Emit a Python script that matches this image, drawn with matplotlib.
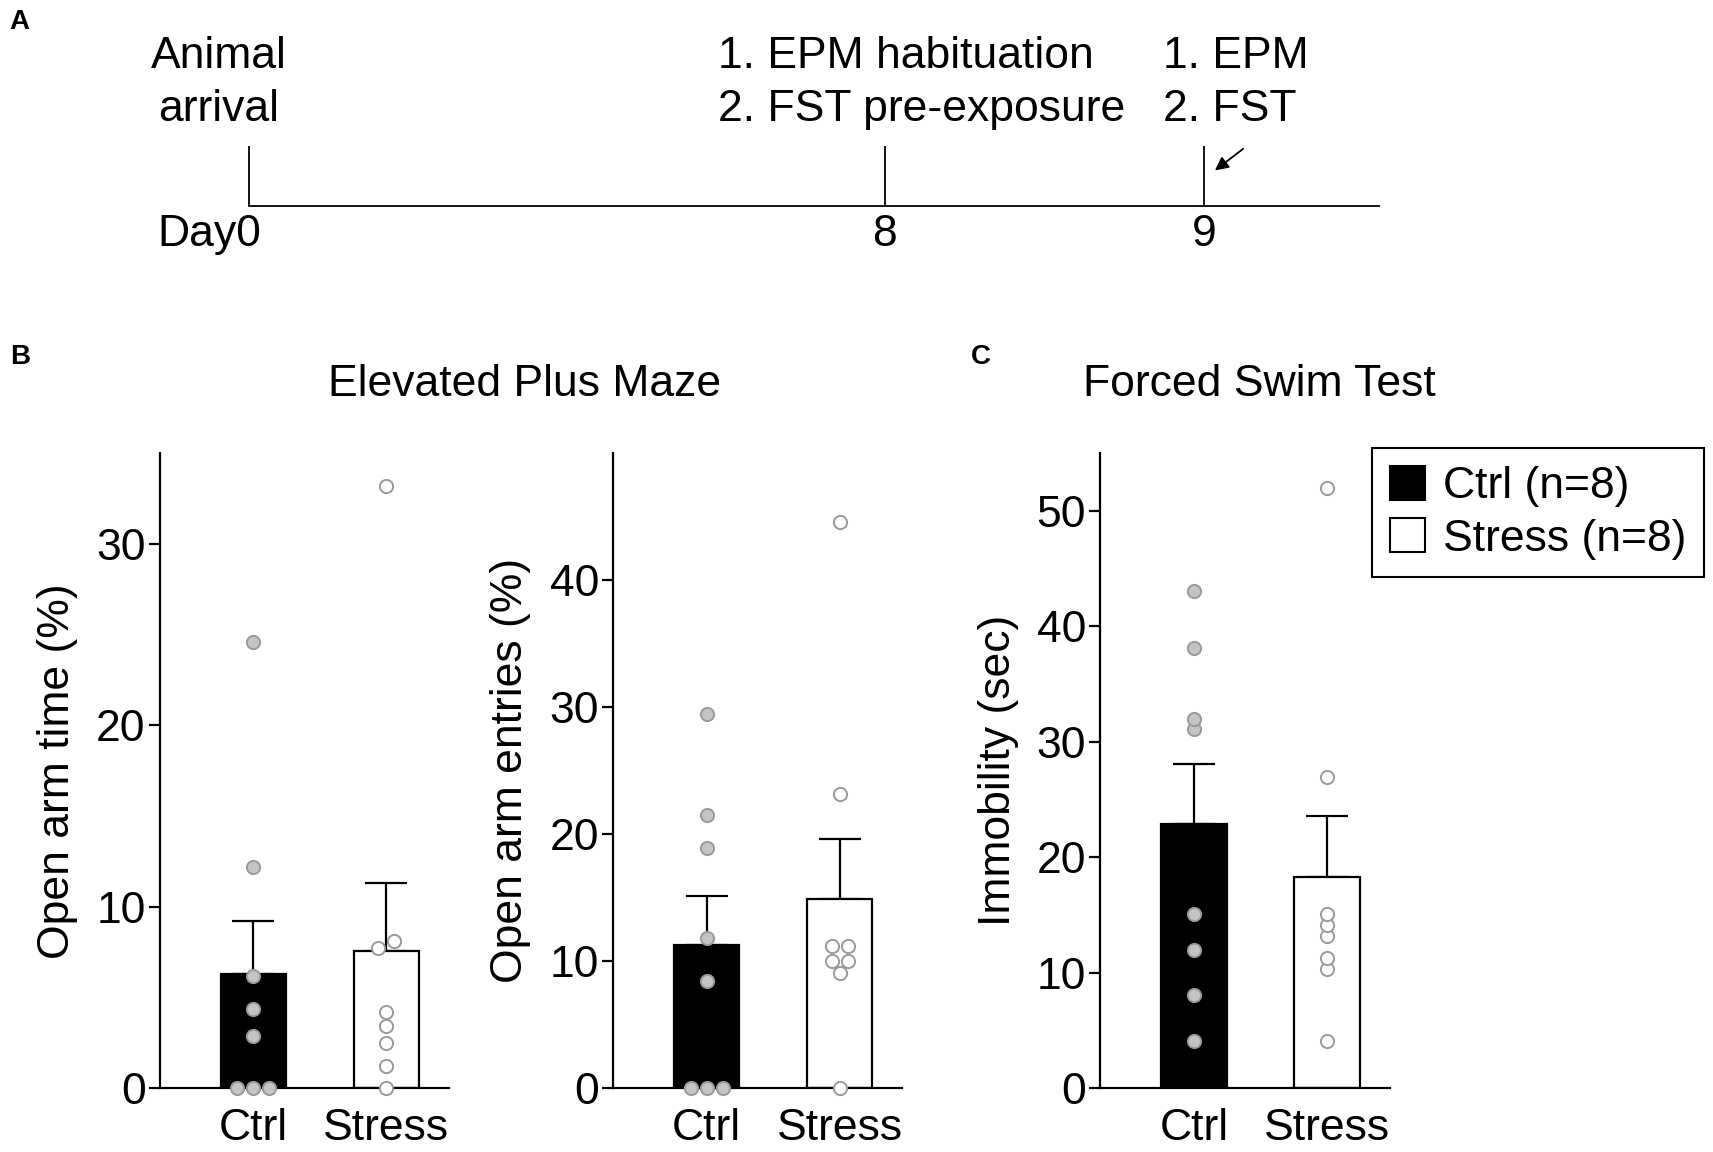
import numpy as np
import matplotlib
matplotlib.use("Agg")
import matplotlib.pyplot as plt
from matplotlib.patches import Patch

plt.rcParams['font.family'] = ['Liberation Sans', 'DejaVu Sans']

# values
groups = ['Ctrl', 'Stress']

epm_time_ctrl = [24.6, 12.2, 6.2, 4.35, 2.85, 0, 0, 0]
epm_time_stress = [33.2, 8.1, 7.7, 4.2, 3.4, 2.5, 1.2, 0]
epm_time_mean = [6.3, 7.55]
epm_time_sem = [2.9, 3.75]

epm_entries_ctrl = [29.5, 21.5, 18.9, 11.8, 8.4, 0, 0, 0]
epm_entries_stress = [44.6, 23.2, 11.2, 11.2, 10.0, 10.0, 9.1, 0]
epm_entries_mean = [11.25, 14.9]
epm_entries_sem = [3.9, 4.7]

fst_ctrl = [43.1, 38.1, 32.0, 31.1, 15.1, 12.0, 8.1, 4.1]
fst_stress = [52.0, 27.0, 15.1, 14.1, 13.2, 11.3, 10.3, 4.1]
fst_mean = [22.9, 18.3]
fst_sem = [5.2, 5.3]

timeline_days = ['Day0', '8', '9']
timeline_events = [['Animal', 'arrival'],
                   ['1. EPM habituation', '2. FST pre-exposure'],
                   ['1. EPM', '2. FST']]
legend_labels = ['Ctrl (n=8)', 'Stress (n=8)']

# layout is measured on a 1568 x 1054.5 grid of the reference
W, H = 1568.0, 1054.5
FS = 32


def fx(px):
    return px / W


def fy(py):
    return 1 - py / H


def swarm_x(ax, center, values, diam_px):
    # points closer than ~half a marker go into one row, spread sideways
    vals = np.sort(np.asarray(values, float))
    tr = ax.transData.transform
    ypx = tr(np.column_stack([np.full(len(vals), center), vals]))[:, 1]
    unit_px = tr([[1, 0]])[0, 0] - tr([[0, 0]])[0, 0]
    step = 1.15 * diam_px / unit_px
    xs = np.empty(len(vals))
    i = 0
    while i < len(vals):
        j = i
        while j + 1 < len(vals) and ypx[j + 1] - ypx[i] < 0.6 * diam_px:
            j += 1
        n = j - i + 1
        xs[i:j + 1] = center + (np.arange(n) - (n - 1) / 2) * step
        i = j + 1
    return xs, vals


def draw_panel(ax, ctrl, stress, means, sems, ytop, yticks, ylabel, labelpad):
    ax.set_xlim(-0.705, 1.47)
    ax.set_ylim(0, ytop)
    x = np.arange(len(groups))
    ax.errorbar(x, means, yerr=[[0, 0], sems], fmt='none', ecolor='black',
                elinewidth=1.6, capsize=15, capthick=1.6, zorder=1)
    ax.bar(x, means, width=0.49, color=['black', 'white'], edgecolor='black',
           linewidth=1.6, zorder=2)
    for xi, vals, face in zip(x, [ctrl, stress], ['#c4c4c4', 'white']):
        xs, ys = swarm_x(ax, xi, vals, 14)
        ax.plot(xs, ys, 'o', ms=9.5, mfc=face, mec='#9a9a9a', mew=1.4,
                zorder=3, clip_on=False)
    ax.set_xticks(x)
    ax.set_xticklabels(groups)
    ax.set_yticks(yticks)
    ax.set_ylabel(ylabel, fontsize=FS, labelpad=labelpad)
    for s in ['top', 'right']:
        ax.spines[s].set_visible(False)
    for s in ['left', 'bottom']:
        ax.spines[s].set_linewidth(1.6)
    ax.tick_params(axis='y', length=8, width=1.6, pad=2, labelsize=FS)
    ax.tick_params(axis='x', length=0, pad=14, labelsize=FS)


fig = plt.figure(figsize=(17.13, 11.52), dpi=100)

ax_w = fx(265)
ax_b = fy(996)
ax_h = fy(415) - fy(996)

ax1 = fig.add_axes([fx(146), ax_b, ax_w, ax_h])
draw_panel(ax1, epm_time_ctrl, epm_time_stress, epm_time_mean, epm_time_sem,
           35, [0, 10, 20, 30], 'Open arm time (%)', 13)

ax2 = fig.add_axes([fx(561), ax_b, ax_w, ax_h])
draw_panel(ax2, epm_entries_ctrl, epm_entries_stress, epm_entries_mean,
           epm_entries_sem, 50, [0, 10, 20, 30, 40], 'Open arm entries (%)', 13)

ax3 = fig.add_axes([fx(1007), ax_b, ax_w, ax_h])
draw_panel(ax3, fst_ctrl, fst_stress, fst_mean, fst_sem,
           55, [0, 10, 20, 30, 40, 50], 'Immobility (sec)', 13)

fig.text(fx(480), fy(352), 'Elevated Plus Maze', fontsize=FS, ha='center', va='center')
fig.text(fx(1153), fy(352), 'Forced Swim Test', fontsize=FS, ha='center', va='center')

handles = [Patch(facecolor='black', edgecolor='black', linewidth=1.5),
           Patch(facecolor='white', edgecolor='black', linewidth=1.5)]
leg = fig.legend(handles, legend_labels, loc='upper right',
                 bbox_to_anchor=(fx(1560), fy(410)), fontsize=FS,
                 frameon=True, fancybox=False, framealpha=1, edgecolor='black',
                 borderpad=0.4, labelspacing=0.25, handletextpad=0.4,
                 handlelength=0.8, handleheight=0.8, borderaxespad=0)
leg.get_frame().set_linewidth(1.5)

# timeline (panel A)
axt = fig.add_axes([fx(228), fy(189), fx(1262) - fx(228), fy(134) - fy(189)])
axt.set_xlim(0, 1)
axt.set_ylim(0, 1)
axt.axis('off')
event_x = [0, 582 / 1034, 874 / 1034]
axt.axhline(0, color='black', lw=1.3, clip_on=False)
axt.vlines(event_x, 0, 1, color='black', lw=1.3, clip_on=False)
axt.annotate('', xy=(0.855, 0.6), xytext=(0.88, 0.96),
             arrowprops=dict(arrowstyle='-|>', color='black', lw=1.3,
                             mutation_scale=20, shrinkA=0, shrinkB=0))

day_px = [192, 810, 1102]
for px, lab in zip(day_px, timeline_days):
    fig.text(fx(px), fy(215), lab, fontsize=FS, ha='center', va='center')

event_px = [200, 657, 1065]
event_ha = ['center', 'left', 'left']
for px, ha, lines in zip(event_px, event_ha, timeline_events):
    for py, line in zip([52, 100], lines):
        fig.text(fx(px), fy(py), line, fontsize=FS, ha=ha, va='center')

for lab, px, py in [('A', 18, 20), ('B', 18, 327), ('C', 898, 327)]:
    fig.text(fx(px), fy(py), lab, fontsize=20, fontweight='bold',
             ha='center', va='center')

fig.savefig('out.png', dpi=100)
